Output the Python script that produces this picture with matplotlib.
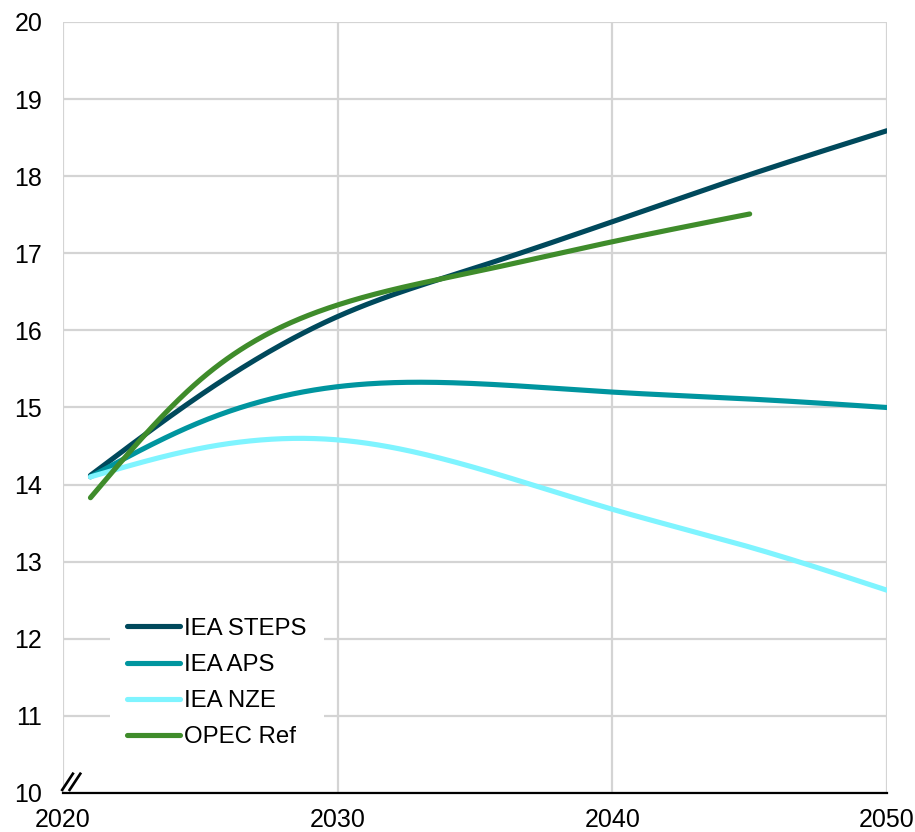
import numpy as np
from matplotlib import pyplot as plt

plt.rcParams['font.family'] = ['Liberation Sans', 'DejaVu Sans']

# data
years = [2021, 2025, 2030, 2035, 2040, 2045, 2050]
steps = [14.12, 15.16, 16.18, 16.81, 17.41, 18.02, 18.59]
aps = [14.1, 14.81, 15.27, 15.31, 15.20, 15.11, 15.0]
nze = [14.1, 14.47, 14.58, 14.22, 13.68, 13.19, 12.63]
opec_years = [2021, 2025, 2030, 2035, 2040, 2045]
opec = [13.83, 15.36, 16.33, 16.76, 17.15, 17.51]

series = [("IEA STEPS", years, steps, "#00495c"),
          ("IEA APS", years, aps, "#00959f"),
          ("IEA NZE", years, nze, "#7ff4ff"),
          ("OPEC Ref", opec_years, opec, "#3f8c2b")]

def smooth(xs, ys, n=300):
    # natural cubic spline through the points
    x = np.asarray(xs, float)
    y = np.asarray(ys, float)
    k = len(x)
    h = np.diff(x)
    A = np.zeros((k, k))
    b = np.zeros(k)
    A[0, 0] = A[-1, -1] = 1
    for i in range(1, k - 1):
        A[i, i - 1] = h[i - 1]
        A[i, i] = 2 * (h[i - 1] + h[i])
        A[i, i + 1] = h[i]
        b[i] = 6 * ((y[i + 1] - y[i]) / h[i] - (y[i] - y[i - 1]) / h[i - 1])
    M = np.linalg.solve(A, b)
    xx = np.linspace(x[0], x[-1], n)
    idx = np.clip(np.searchsorted(x, xx) - 1, 0, k - 2)
    x0, x1 = x[idx], x[idx + 1]
    hh = x1 - x0
    a = (x1 - xx) / hh
    c = (xx - x0) / hh
    yy = (a * y[idx] + c * y[idx + 1]
          + ((a**3 - a) * M[idx] + (c**3 - c) * M[idx + 1]) * hh**2 / 6)
    return xx, yy

W, H = 915, 832
fig = plt.figure(figsize=(W / 100, H / 100), dpi=100)
ax = fig.add_axes([63 / W, 1 - 793 / H, 824 / W, 771 / H])

for label, xs, ys, col in series:
    sx, sy = smooth(xs, ys)
    ax.plot(sx, sy, color=col, lw=3.7, solid_capstyle='round', label=label)

ax.set_xlim(2020, 2050)
ax.set_ylim(10, 20)
ax.set_xticks([2020, 2030, 2040, 2050])
ax.set_yticks(range(10, 21))
ax.grid(True, color='#d4d4d4', lw=1.6)
ax.set_axisbelow(True)
for s in ['top', 'right', 'left']:
    ax.spines[s].set_visible(False)
ax.spines['bottom'].set_color('black')
ax.spines['bottom'].set_linewidth(1.6)
ax.spines['bottom'].set_zorder(5)
ax.tick_params(length=0, labelsize=18, colors='black')
ax.tick_params(axis='y', pad=15)
ax.tick_params(axis='x', pad=11)

# axis break marks
for dx in [0, 0.009]:
    ax.plot([-0.001 + dx, 0.012 + dx], [0.004, 0.025], color='black', lw=1.9,
            transform=ax.transAxes, clip_on=False, zorder=6)

leg = ax.legend(loc='upper left', bbox_to_anchor=(47 / 824, 192 / 771),
                fontsize=17.3, frameon=True, fancybox=False, framealpha=1,
                edgecolor='white', handlelength=2.2, handletextpad=0.2,
                labelspacing=0.59, borderpad=0.7, borderaxespad=0)
leg.get_frame().set_linewidth(0)

fig.savefig("out.png", dpi=100)
